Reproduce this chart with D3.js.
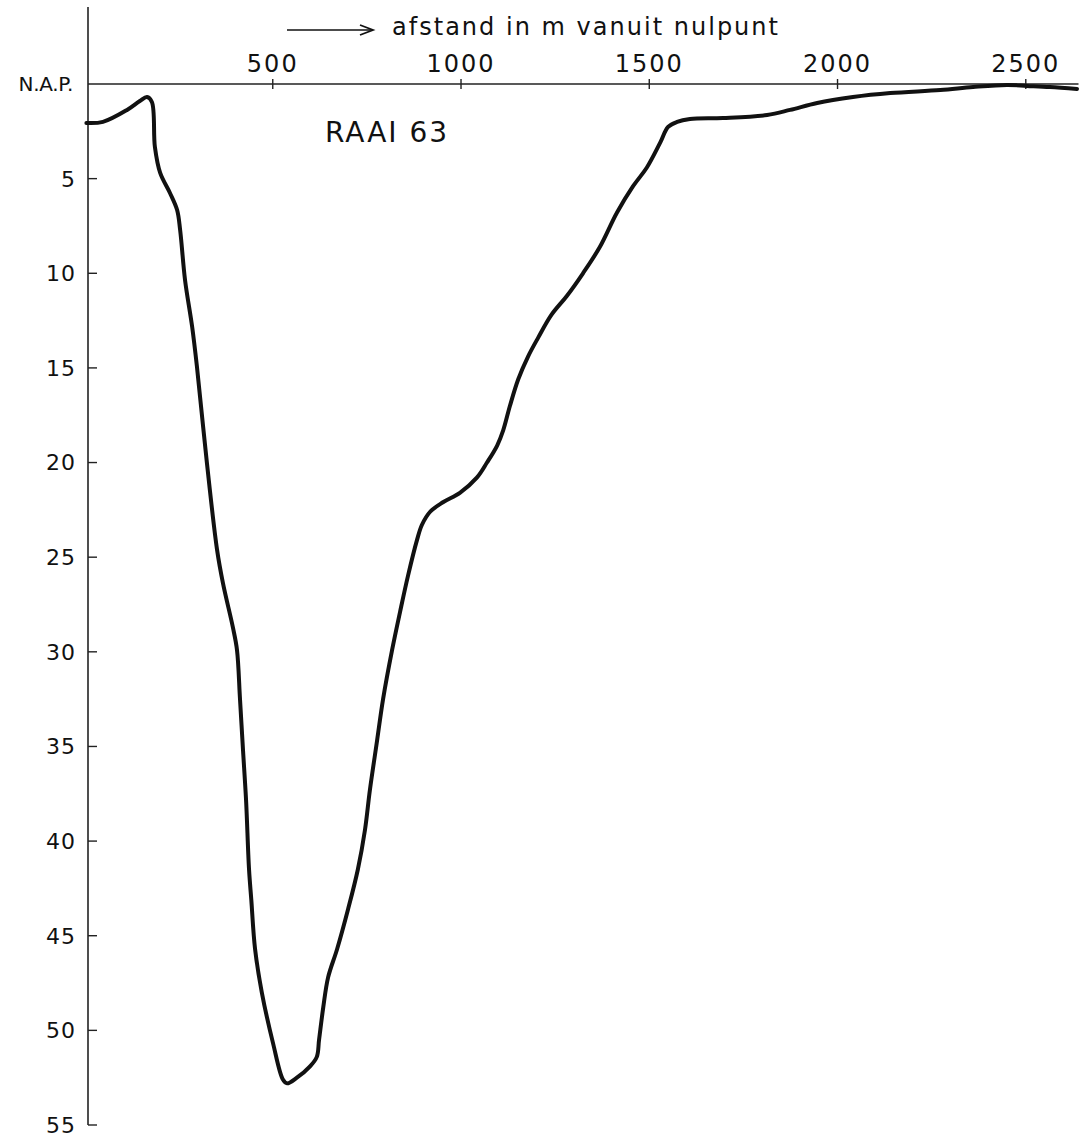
<!DOCTYPE html>
<html>
<head>
<meta charset="utf-8">
<script src="https://cdn.jsdelivr.net/npm/d3@7"></script>
<style>
  html, body { margin: 0; padding: 0; background: #fff; }
  svg { display: block; }
  text { font-family: "DejaVu Sans", sans-serif; fill: #111; }
</style>
</head>
<body>
<svg id="chart" width="1080" height="1145"></svg>
<script>
// ---- data ----
const distance = [5, 49, 113, 147, 166, 179, 187, 201, 227, 246, 254, 267, 286, 299, 325, 352, 368, 394, 405, 413, 421, 429, 437, 443, 453, 471, 501, 527, 538, 564, 599, 617, 623, 634, 647, 671, 700, 726, 745, 758, 777, 793, 817, 838, 859, 883, 896, 918, 952, 997, 1042, 1069, 1096, 1112, 1130, 1152, 1178, 1205, 1240, 1281, 1324, 1369, 1414, 1457, 1494, 1529, 1550, 1574, 1608, 1696, 1813, 1874, 1946, 2041, 2140, 2273, 2360, 2450, 2503, 2564, 2636];
const depth = [2.06, 2.0, 1.37, 0.9, 0.69, 0.95, 3.33, 4.7, 5.76, 6.66, 7.71, 10.35, 12.84, 15.0, 20.0, 24.6, 26.4, 28.7, 29.9, 32.5, 35.2, 37.8, 41.5, 43.1, 45.7, 48.0, 50.7, 52.6, 52.8, 52.5, 51.9, 51.4, 50.5, 48.8, 47.2, 45.7, 43.6, 41.5, 39.4, 37.3, 34.7, 32.5, 29.9, 27.9, 26.0, 24.1, 23.3, 22.6, 22.1, 21.6, 20.8, 20.0, 19.1, 18.3, 17.0, 15.6, 14.4, 13.4, 12.2, 11.2, 10.0, 8.6, 6.8, 5.4, 4.4, 3.1, 2.27, 2.0, 1.85, 1.8, 1.64, 1.37, 1.0, 0.69, 0.48, 0.32, 0.16, 0.05, 0.1, 0.16, 0.26];
const xTicks = [500, 1000, 1500, 2000, 2500];
const yTicks = [5, 10, 15, 20, 25, 30, 35, 40, 45, 50, 55];
const zeroLabel = "N.A.P.";
const axisTitle = "afstand in m vanuit nulpunt";
const chartTitle = "RAAI 63";

// ---- layout ----
const svg = d3.select("#chart");
const x = d3.scaleLinear().domain([0, 2640]).range([84.5, 1078.5]);
const y = d3.scaleLinear().domain([0, 55]).range([84, 1125]);
const axisX = 88;

// top axis line
svg.append("line")
  .attr("x1", axisX).attr("x2", x(2640))
  .attr("y1", y(0)).attr("y2", y(0))
  .attr("stroke", "#222").attr("stroke-width", 1.6);

// vertical axis line
svg.append("line")
  .attr("x1", axisX).attr("x2", axisX)
  .attr("y1", 7).attr("y2", y(55))
  .attr("stroke", "#222").attr("stroke-width", 1.6);

// x ticks
const xg = svg.append("g");
xg.selectAll("line").data(xTicks).join("line")
  .attr("x1", d => x(d)).attr("x2", d => x(d))
  .attr("y1", y(0) - 5).attr("y2", y(0) + 5)
  .attr("stroke", "#222").attr("stroke-width", 1.4);
xg.selectAll("text").data(xTicks).join("text")
  .attr("x", d => x(d)).attr("y", 72)
  .attr("text-anchor", "middle")
  .attr("font-size", 24)
  .attr("letter-spacing", 2)
  .text(d => d);

// y ticks
const yg = svg.append("g");
yg.selectAll("line").data(yTicks).join("line")
  .attr("x1", axisX).attr("x2", axisX + 9)
  .attr("y1", d => y(d)).attr("y2", d => y(d))
  .attr("stroke", "#222").attr("stroke-width", 1.4);
yg.selectAll("text").data(yTicks).join("text")
  .attr("x", 76).attr("y", d => y(d))
  .attr("dy", "0.36em")
  .attr("text-anchor", "end")
  .attr("font-size", 22)
  .attr("letter-spacing", 1)
  .text(d => d);

// zero label
svg.append("text")
  .attr("x", 73).attr("y", y(0)).attr("dy", "0.36em")
  .attr("text-anchor", "end")
  .attr("font-size", 20)
  .attr("letter-spacing", -0.3)
  .text(zeroLabel);

// arrow + axis title
svg.append("line")
  .attr("x1", 287).attr("x2", 372)
  .attr("y1", 30).attr("y2", 30)
  .attr("stroke", "#111").attr("stroke-width", 1.6);
svg.append("path")
  .attr("d", "M360,25 L373,30 L360,35")
  .attr("fill", "none").attr("stroke", "#111").attr("stroke-width", 1.8);
svg.append("text")
  .attr("x", 392).attr("y", 35)
  .attr("font-size", 24)
  .attr("textLength", 386).attr("lengthAdjust", "spacing")
  .text(axisTitle);

// chart title
svg.append("text")
  .attr("x", 325).attr("y", 142)
  .attr("font-size", 28)
  .attr("textLength", 122).attr("lengthAdjust", "spacing")
  .text(chartTitle);

// profile line
const pts = distance.map((d, i) => [d, depth[i]]);
const line = d3.line()
  .x(d => x(d[0])).y(d => y(d[1]))
  .curve(d3.curveCatmullRom.alpha(0.5));
svg.append("path")
  .datum(pts)
  .attr("d", line)
  .attr("fill", "none")
  .attr("stroke", "#111")
  .attr("stroke-width", 4)
  .attr("stroke-linejoin", "round")
  .attr("stroke-linecap", "round");
</script>
</body>
</html>
